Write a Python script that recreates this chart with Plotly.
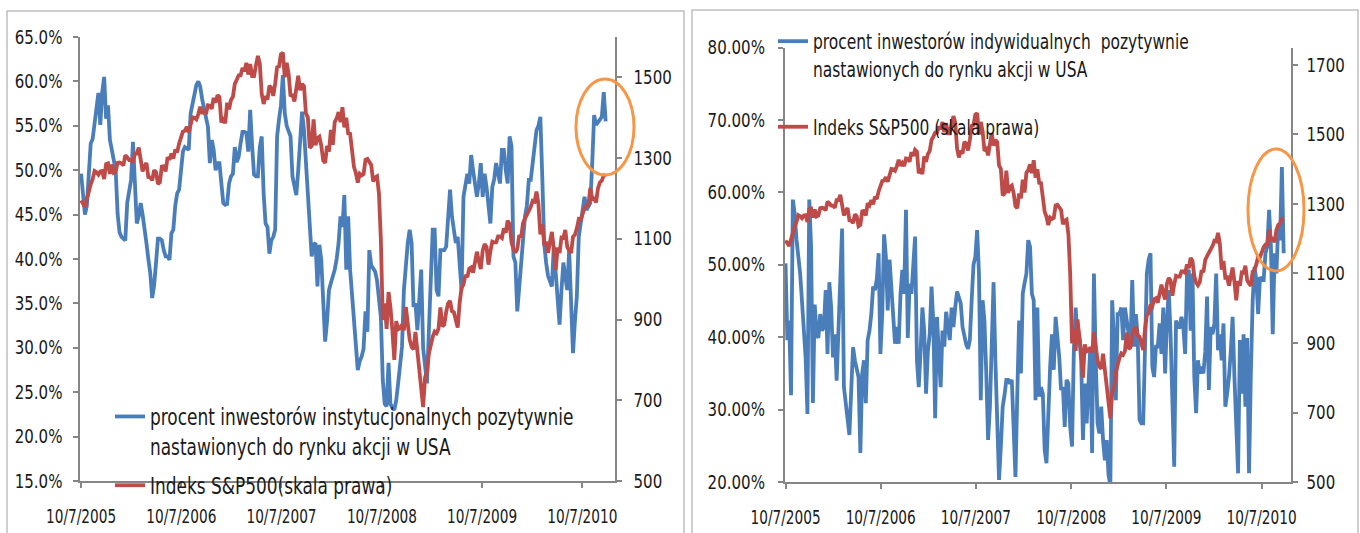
import pandas as pd
import plotly.graph_objects as go

# ---------------- data ----------------
start_date = "2005-10-07"   # first weekly observation (Friday)

tick_dates = ["2005-10-07", "2006-10-07", "2007-10-07", "2008-10-07", "2009-10-07", "2010-10-07"]
tick_labels = ["10/7/2005", "10/7/2006", "10/7/2007", "10/7/2008", "10/7/2009", "10/7/2010"]

left_pct_ticks = [15, 20, 25, 30, 35, 40, 45, 50, 55, 60, 65]
left_sp_ticks = [500, 700, 900, 1100, 1300, 1500]
right_pct_ticks = [20, 30, 40, 50, 60, 70, 80]
right_sp_ticks = [500, 700, 900, 1100, 1300, 1500, 1700]

# % of institutional investors bullish (weekly)
inst_bull_pct = [
    49.6, 47, 45, 46, 50, 53, 53.5, 55.5, 57, 58.7,
    55.1, 58.8, 60.5, 55.8, 57.3, 53.4, 52.3, 51, 50, 45.1,
    43, 42.5, 42.3, 42.1, 46.3, 47.5, 48.9, 53.2, 48.1, 44,
    44.8, 46.3, 45, 43.6, 41.8, 40, 38.4, 35.6, 37, 39.6,
    42.3, 42.3, 42.1, 41, 40.3, 40.3, 39.9, 42.9, 43.3, 46,
    47.4, 47.8, 50, 52.1, 52.6, 52.5, 52.3, 56.4, 57.5, 58.5,
    59.6, 60, 59.4, 58, 56.8, 55.5, 54.9, 50.8, 53.4, 52.3,
    50, 50.8, 50.8, 48.5, 46.3, 46.1, 46.2, 48.5, 49.3, 49.6,
    52.6, 50.9, 51.5, 53, 54.3, 54.3, 54.2, 52.1, 56.8, 52.8,
    49.5, 49.3, 49.3, 52.6, 53.8, 47.4, 44, 43.6, 40.6, 42.1,
    42.5, 43.3, 53.8, 55.7, 57.3, 60.7, 56.4, 55, 54.2, 53.8,
    49.3, 48, 47.2, 50, 53, 56.6, 54.5, 50.8, 47.4, 43.3,
    40.3, 41.6, 41.8, 36.9, 41.6, 39.9, 33.9, 30.7, 33, 36.5,
    37.3, 38, 38.8, 40, 41.8, 44.8, 43.6, 47.2, 38.8, 44.8,
    38.8, 36, 32.8, 30, 27.5, 28.5, 29, 29.9, 34.1, 31.8,
    41, 39.3, 39, 38.6, 37.6, 35, 33.5, 26.4, 23.7, 23.4,
    28.3, 23.7, 23.2, 23, 24.1, 26, 28, 30.1, 36.5, 40,
    41.8, 43.3, 41.8, 34.6, 35, 32, 35, 38.8, 30, 28.3,
    26, 32, 38, 43.3, 43.3, 36.5, 35.8, 41, 41, 41,
    41.4, 44, 47.8, 44.8, 42.9, 41.8, 42.5, 40, 36.5, 47,
    48.5, 49.6, 48.5, 51.7, 50, 48, 47, 48.5, 50.8, 47,
    49.6, 48.1, 46, 44, 48.1, 49, 50.8, 49.6, 48.5, 52.3,
    52.3, 50, 48.5, 53.8, 52.7, 40.3, 39.6, 34.1, 37, 38.8,
    42.5, 44.8, 46, 48.9, 48.9, 51.1, 52.6, 54.5, 55, 56,
    49.3, 41.8, 39.6, 38.1, 37.5, 36.9, 41.4, 38.8, 35.8, 32.6,
    36.5, 39.6, 38, 36.5, 41, 35.8, 29.4, 33, 35.8, 42.5,
    44, 45, 47, 45.5, 45.9, 46.3, 50.8, 56.2, 55.1, 55.5,
    55.7, 56, 58.8, 55.5,
]

# % of individual investors bullish (weekly)
indiv_bull_pct = [
    50.2, 39.6, 42.3, 32, 59, 57.1, 53.5, 51.6, 48.8, 45,
    41.9, 37.2, 29.4, 59, 52.5, 30.9, 44.5, 40.4, 39.9, 43.2,
    40.9, 41.4, 46.5, 37.7, 47.6, 44.1, 37.2, 40.4, 34, 41.4,
    50.2, 55, 33.1, 31.2, 28.9, 26.5, 32.7, 38.6, 36.8, 35.5,
    34.5, 24, 35, 36.8, 30.9, 39.6, 40.9, 43.2, 47, 46.5,
    48, 51.6, 37.7, 43.2, 54.2, 51.1, 43.7, 50.7, 46.5, 42.8,
    39.1, 41.4, 39.1, 46, 49.3, 46, 57.6, 39.9, 47.4, 46,
    49.7, 53.9, 36.8, 33.1, 38, 44.1, 40.9, 32.2, 38, 40.4,
    47, 41.9, 28.8, 42.8, 37.7, 33.1, 40.9, 38.7, 43.5, 41,
    39.6, 44.1, 41.4, 44.1, 46.3, 45.5, 44.7, 41.4, 40, 39,
    38.4, 39.6, 45.1, 50, 51.1, 54.8, 48.8, 31.3, 45.1, 42.3,
    35, 25.8, 30.4, 40.4, 47.6, 36.8, 29.5, 20.3, 24.9, 30.4,
    32, 34.1, 34.1, 33.6, 34.1, 25.8, 20.7, 32.2, 42.3, 35,
    46, 47.5, 48.8, 53.4, 52.5, 46, 45.1, 31.3, 44.1, 31.8,
    33.1, 32.2, 24.4, 22.6, 30, 35.9, 40.4, 35.5, 42.8, 40.4,
    37.2, 32.7, 33.1, 27.6, 34.1, 33.6, 27.6, 24.9, 38.2, 44.1,
    39.6, 40, 36.8, 25.8, 33.6, 28.1, 35, 38.6, 24, 48.8,
    36.8, 28.1, 26.7, 30.4, 25.8, 23, 25.8, 21, 19.5, 45.1,
    39.6, 31.3, 43.2, 43.2, 44.1, 39.6, 44.1, 42.3, 40.4, 38.7,
    47.9, 38.7, 43.2, 40, 28.6, 28.1, 28.1, 41.9, 48.8, 50.7,
    51.6, 35.9, 34.5, 38.7, 38.7, 41.9, 37.7, 44.1, 35, 42,
    46.5, 40.4, 30, 22.1, 42.3, 41.4, 41.4, 42.8, 41.4, 37.7,
    48.8, 49.3, 40.9, 48.8, 34.5, 29.5, 36.8, 35, 35.9, 35,
    38, 45.6, 32.7, 41.4, 40.4, 41.9, 48.8, 38.2, 40.4, 36.8,
    41.9, 30.4, 32.2, 34.5, 38, 42.8, 34.5, 25.8, 21.2, 39.6,
    32.2, 40.4, 30.4, 39.9, 21.2, 35, 45.1, 49.7, 47.9, 43.2,
    48.3, 47.9, 47.9, 51.6, 52.5, 57.6, 52.5, 40.4, 51.6, 48.8,
    55.4, 53.4, 63.5, 51.6,
]

# S&P 500 weekly close
sp500 = [
    1195, 1186, 1179, 1198, 1220, 1235, 1248, 1268, 1265, 1259, 1267, 1268, 1248,
    1285, 1287, 1261, 1284, 1264, 1267, 1288, 1289, 1287, 1282, 1307, 1302, 1295,
    1295, 1289, 1311, 1311, 1326, 1291, 1267, 1280, 1288, 1253, 1252, 1245, 1270,
    1265, 1236, 1240, 1279, 1280, 1267, 1302, 1296, 1311, 1299, 1321, 1314, 1336,
    1349, 1366, 1368, 1377, 1364, 1380, 1401, 1400, 1396, 1409, 1427, 1410, 1418,
    1409, 1431, 1430, 1422, 1449, 1438, 1456, 1451, 1388, 1402, 1386, 1437, 1421,
    1444, 1452, 1484, 1494, 1505, 1505, 1523, 1515, 1536, 1507, 1533, 1503, 1503,
    1530, 1553, 1534, 1459, 1434, 1453, 1445, 1479, 1474, 1454, 1484, 1525, 1527,
    1557, 1561, 1500, 1536, 1509, 1453, 1458, 1440, 1481, 1504, 1468, 1484, 1478,
    1411, 1401, 1325, 1330, 1396, 1332, 1349, 1353, 1331, 1294, 1288, 1330, 1316,
    1370, 1333, 1390, 1398, 1414, 1389, 1426, 1376, 1400, 1361, 1360, 1318, 1278,
    1263, 1239, 1261, 1257, 1260, 1296, 1298, 1292, 1283, 1242, 1252, 1255, 1213,
    1099, 899, 940, 877, 968, 930, 873, 800, 896, 876, 879, 887, 873,
    931, 890, 850, 832, 826, 869, 827, 770, 735, 683, 757, 769, 816,
    843, 857, 870, 866, 877, 930, 883, 887, 919, 940, 946, 921, 918,
    896, 880, 941, 979, 987, 1010, 1005, 1026, 1029, 1016, 1042, 1068, 1044,
    1025, 1071, 1087, 1080, 1036, 1069, 1093, 1091, 1091, 1106, 1106, 1102, 1126, 1115,
    1145, 1136, 1092, 1074, 1066, 1075, 1109, 1104, 1139, 1150, 1160, 1167, 1179,
    1194, 1192, 1217, 1187, 1111, 1136, 1088, 1089, 1065, 1092, 1117, 1076, 1023,
    1078, 1065, 1103, 1102, 1122, 1080, 1071, 1065, 1105, 1110, 1126, 1149, 1147,
    1166, 1176, 1183, 1183, 1226, 1199, 1200, 1190, 1225, 1240, 1244, 1257, 1258,
]

name_inst = "procent inwestorów instytucjonalnych pozytywnie<br>nastawionych do rynku akcji w USA"
name_indiv = "procent inwestorów indywidualnych  pozytywnie<br>nastawionych do rynku akcji w USA"
name_sp_left = "Indeks S&P500(skala prawa)"
name_sp_right = "Indeks S&P500 (skala prawa)"

# ---------------- styling ----------------
W, H = 1360, 533
BLUE = "#4A7EBB"
RED = "#BE4B48"
ORANGE = "#F79646"
GREY = "#868686"
TXT = "#1a1a1a"
FONT = "DejaVu Sans Condensed, Liberation Sans Narrow, Liberation Sans, sans-serif"
LW = 3.8


def px_x(p):
    return p / W


def px_y(p):
    return (H - p) / H


d_inst = pd.date_range(start_date, periods=len(inst_bull_pct), freq="7D")
d_indiv = pd.date_range(start_date, periods=len(indiv_bull_pct), freq="7D")
d_sp = pd.date_range(start_date, periods=len(sp500), freq="7D")

fig = go.Figure()
fig.add_trace(go.Scatter(x=d_inst, y=inst_bull_pct, mode="lines", name=name_inst,
                         line=dict(color=BLUE, width=LW), xaxis="x", yaxis="y",
                         legend="legend", legendgroup="a"))
fig.add_trace(go.Scatter(x=d_sp, y=sp500, mode="lines", name=name_sp_left,
                         line=dict(color=RED, width=LW), xaxis="x", yaxis="y2",
                         legend="legend", legendgroup="b"))
fig.add_trace(go.Scatter(x=d_indiv, y=indiv_bull_pct, mode="lines", name=name_indiv,
                         line=dict(color=BLUE, width=LW), xaxis="x2", yaxis="y3",
                         legend="legend2", legendgroup="c"))
fig.add_trace(go.Scatter(x=d_sp, y=sp500, mode="lines", name=name_sp_right,
                         line=dict(color=RED, width=LW), xaxis="x2", yaxis="y4",
                         legend="legend2", legendgroup="d"))

axis_common = dict(showgrid=False, zeroline=False, showline=True, linecolor=GREY, linewidth=1.5,
                   ticks="outside", ticklen=5, tickwidth=1.5, tickcolor=GREY, automargin=False,
                   tickangle=0, tickfont=dict(family=FONT, size=19, color=TXT))

fig.update_layout(
    width=W, height=H, margin=dict(l=0, r=0, t=0, b=0, autoexpand=False),
    paper_bgcolor="white", plot_bgcolor="white",
    font=dict(family=FONT, color=TXT),
    xaxis=dict(domain=[px_x(80), px_x(615)], type="date",
               range=["2005-10-03", "2011-02-03"],
               tickvals=tick_dates, ticktext=tick_labels, anchor="y",
               ticklabelstandoff=12, **axis_common),
    yaxis=dict(domain=[px_y(481), px_y(37)], range=[15, 65], tickvals=left_pct_ticks,
               ticktext=[f"{v:.1f}%" for v in left_pct_ticks], anchor="x",
               ticklabelstandoff=7, **axis_common),
    yaxis2=dict(overlaying="y", side="right", anchor="x", range=[500, 1600],
                tickvals=left_sp_ticks, ticktext=[str(v) for v in left_sp_ticks],
                ticklabelstandoff=8, **axis_common),
    xaxis2=dict(domain=[px_x(784.5), px_x(1291)], type="date",
                range=["2005-10-03", "2011-01-28"],
                tickvals=tick_dates, ticktext=tick_labels, anchor="y3",
                ticklabelstandoff=12, **axis_common),
    yaxis3=dict(domain=[px_y(482), px_y(47.6)], range=[20, 80], tickvals=right_pct_ticks,
                ticktext=[f"{v:.2f}%" for v in right_pct_ticks], anchor="x2",
                ticklabelstandoff=9, **axis_common),
    yaxis4=dict(overlaying="y3", side="right", anchor="x2", range=[500, 1750],
                tickvals=right_sp_ticks, ticktext=[str(v) for v in right_sp_ticks],
                ticklabelstandoff=5, **axis_common),
    legend=dict(x=px_x(110), y=px_y(395), xanchor="left", yanchor="top",
                bgcolor="rgba(0,0,0,0)", font=dict(family=FONT, size=23, color=TXT),
                valign="top", tracegroupgap=6),
    legend2=dict(x=px_x(773), y=px_y(21), xanchor="left", yanchor="top",
                 bgcolor="rgba(0,0,0,0)", font=dict(family=FONT, size=21, color=TXT),
                 valign="top", tracegroupgap=28),
    showlegend=True,
)

shapes = [
    # panel borders
    dict(type="rect", xref="paper", yref="paper", x0=px_x(7), x1=px_x(684), y0=px_y(540), y1=px_y(11),
         line=dict(color="#BFBFBF", width=1.5), fillcolor="rgba(0,0,0,0)", layer="below"),
    dict(type="rect", xref="paper", yref="paper", x0=px_x(692), x1=px_x(1358), y0=px_y(540), y1=px_y(10),
         line=dict(color="#BFBFBF", width=1.5), fillcolor="rgba(0,0,0,0)", layer="below"),
    # highlight ellipses
    dict(type="circle", xref="paper", yref="paper", x0=px_x(576), x1=px_x(634), y0=px_y(175), y1=px_y(79),
         line=dict(color=ORANGE, width=3)),
    dict(type="circle", xref="paper", yref="paper", x0=px_x(1248), x1=px_x(1304), y0=px_y(271), y1=px_y(149),
         line=dict(color=ORANGE, width=3)),
]
fig.update_layout(shapes=shapes)

# Page without default body margin; the reference uses a strongly condensed face, so the
# real text glyphs are squeezed horizontally (legends via CSS, tick labels via textLength).
post_js = """
document.body.style.margin = '0';
document.body.style.padding = '0';
document.body.style.overflow = 'hidden';
var st = document.createElement('style');
st.textContent = 'g.legend text, g.legend2 text, text.legendtext, text.legend2text '
  + '{ transform-box: fill-box; transform-origin: 0% 50%; transform: scaleX(0.82); }';
document.head.appendChild(st);
var gd = document.getElementById('{plot_id}');
function sq(el, k) {
  try {
    el.removeAttribute('textLength');
    el.removeAttribute('lengthAdjust');
    var w = el.getComputedTextLength();
    if (w > 0) { el.setAttribute('textLength', (w * k).toFixed(2)); el.setAttribute('lengthAdjust', 'spacingAndGlyphs'); }
  } catch (e) {}
}
function applyAll() {
  gd.querySelectorAll('g.xtick text, g.x2tick text').forEach(function (t) { sq(t, 0.8); });
  gd.querySelectorAll('g.ytick text, g.y2tick text, g.y3tick text, g.y4tick text').forEach(function (t) { sq(t, 0.88); });
}
applyAll();
if (gd.on) { gd.on('plotly_afterplot', applyAll); }
setTimeout(applyAll, 50);
setTimeout(applyAll, 300);
"""

fig.write_html("out.html", config={"displayModeBar": False}, post_script=post_js)
